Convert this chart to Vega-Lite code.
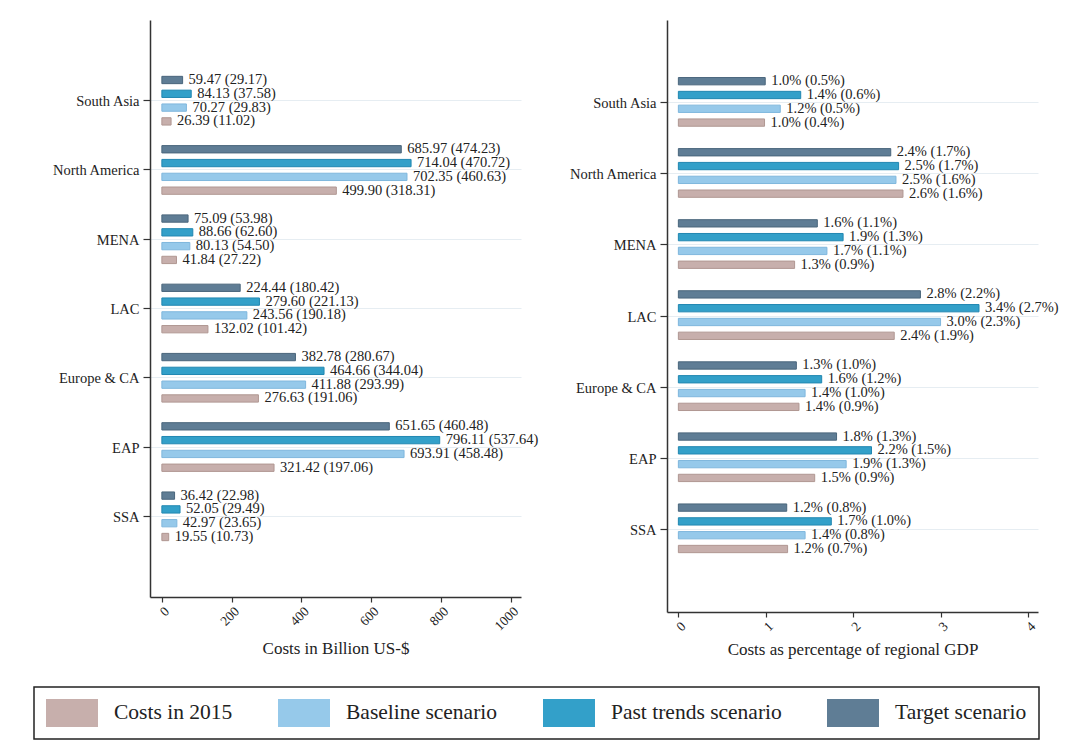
{
  "$schema": "https://vega.github.io/schema/vega-lite/v6.json",
  "padding": {"left": 33, "top": 20, "right": 5, "bottom": 5},
  "background": "white",
  "data": {"values": [
    {"region": "South Asia", "series": "Target scenario", "cost": 59.47, "clab": "59.47 (29.17)", "pct": 0.994, "plab": "1.0% (0.5%)"},
    {"region": "South Asia", "series": "Past trends scenario", "cost": 84.13, "clab": "84.13 (37.58)", "pct": 1.40, "plab": "1.4% (0.6%)"},
    {"region": "South Asia", "series": "Baseline scenario", "cost": 70.27, "clab": "70.27 (29.83)", "pct": 1.166, "plab": "1.2% (0.5%)"},
    {"region": "South Asia", "series": "Costs in 2015", "cost": 26.39, "clab": "26.39 (11.02)", "pct": 0.986, "plab": "1.0% (0.4%)"},
    {"region": "North America", "series": "Target scenario", "cost": 685.97, "clab": "685.97 (474.23)", "pct": 2.43, "plab": "2.4% (1.7%)"},
    {"region": "North America", "series": "Past trends scenario", "cost": 714.04, "clab": "714.04 (470.72)", "pct": 2.52, "plab": "2.5% (1.7%)"},
    {"region": "North America", "series": "Baseline scenario", "cost": 702.35, "clab": "702.35 (460.63)", "pct": 2.49, "plab": "2.5% (1.6%)"},
    {"region": "North America", "series": "Costs in 2015", "cost": 499.90, "clab": "499.90 (318.31)", "pct": 2.57, "plab": "2.6% (1.6%)"},
    {"region": "MENA", "series": "Target scenario", "cost": 75.09, "clab": "75.09 (53.98)", "pct": 1.59, "plab": "1.6% (1.1%)"},
    {"region": "MENA", "series": "Past trends scenario", "cost": 88.66, "clab": "88.66 (62.60)", "pct": 1.885, "plab": "1.9% (1.3%)"},
    {"region": "MENA", "series": "Baseline scenario", "cost": 80.13, "clab": "80.13 (54.50)", "pct": 1.70, "plab": "1.7% (1.1%)"},
    {"region": "MENA", "series": "Costs in 2015", "cost": 41.84, "clab": "41.84 (27.22)", "pct": 1.33, "plab": "1.3% (0.9%)"},
    {"region": "LAC", "series": "Target scenario", "cost": 224.44, "clab": "224.44 (180.42)", "pct": 2.77, "plab": "2.8% (2.2%)"},
    {"region": "LAC", "series": "Past trends scenario", "cost": 279.60, "clab": "279.60 (221.13)", "pct": 3.44, "plab": "3.4% (2.7%)"},
    {"region": "LAC", "series": "Baseline scenario", "cost": 243.56, "clab": "243.56 (190.18)", "pct": 3.00, "plab": "3.0% (2.3%)"},
    {"region": "LAC", "series": "Costs in 2015", "cost": 132.02, "clab": "132.02 (101.42)", "pct": 2.47, "plab": "2.4% (1.9%)"},
    {"region": "Europe & CA", "series": "Target scenario", "cost": 382.78, "clab": "382.78 (280.67)", "pct": 1.35, "plab": "1.3% (1.0%)"},
    {"region": "Europe & CA", "series": "Past trends scenario", "cost": 464.66, "clab": "464.66 (344.04)", "pct": 1.64, "plab": "1.6% (1.2%)"},
    {"region": "Europe & CA", "series": "Baseline scenario", "cost": 411.88, "clab": "411.88 (293.99)", "pct": 1.45, "plab": "1.4% (1.0%)"},
    {"region": "Europe & CA", "series": "Costs in 2015", "cost": 276.63, "clab": "276.63 (191.06)", "pct": 1.38, "plab": "1.4% (0.9%)"},
    {"region": "EAP", "series": "Target scenario", "cost": 651.65, "clab": "651.65 (460.48)", "pct": 1.81, "plab": "1.8% (1.3%)"},
    {"region": "EAP", "series": "Past trends scenario", "cost": 796.11, "clab": "796.11 (537.64)", "pct": 2.21, "plab": "2.2% (1.5%)"},
    {"region": "EAP", "series": "Baseline scenario", "cost": 693.91, "clab": "693.91 (458.48)", "pct": 1.92, "plab": "1.9% (1.3%)"},
    {"region": "EAP", "series": "Costs in 2015", "cost": 321.42, "clab": "321.42 (197.06)", "pct": 1.56, "plab": "1.5% (0.9%)"},
    {"region": "SSA", "series": "Target scenario", "cost": 36.42, "clab": "36.42 (22.98)", "pct": 1.24, "plab": "1.2% (0.8%)"},
    {"region": "SSA", "series": "Past trends scenario", "cost": 52.05, "clab": "52.05 (29.49)", "pct": 1.75, "plab": "1.7% (1.0%)"},
    {"region": "SSA", "series": "Baseline scenario", "cost": 42.97, "clab": "42.97 (23.65)", "pct": 1.45, "plab": "1.4% (0.8%)"},
    {"region": "SSA", "series": "Costs in 2015", "cost": 19.55, "clab": "19.55 (10.73)", "pct": 1.25, "plab": "1.2% (0.7%)"}
  ]},
  "config": {
    "font": "Liberation Serif",
    "view": {"stroke": null},
    "axis": {
      "labelFont": "Liberation Serif",
      "titleFont": "Liberation Serif",
      "labelColor": "#222222",
      "titleColor": "#222222",
      "domainColor": "#333333",
      "domainWidth": 1.5,
      "tickColor": "#333333",
      "tickWidth": 1.2,
      "titleFontWeight": "normal"
    },
    "legend": {
      "labelFont": "Liberation Serif",
      "labelFontSize": 21.5,
      "labelLimit": 400,
      "labelColor": "#222222",
      "strokeColor": "#222222",
      "strokeWidth": 1.5,
      "padding": 12,
      "fillColor": "white"
    }
  },
  "spacing": 28,
  "hconcat": [
    {
      "width": 371,
      "height": 577,
      "encoding": {
        "y": {"field": "region", "type": "nominal",
          "sort": ["South Asia", "North America", "MENA", "LAC", "Europe & CA", "EAP", "SSA"],
          "scale": {"paddingInner": 0, "paddingOuter": 0.665},
          "axis": {"title": null, "labelFontSize": 14.5, "tickSize": 7, "labelPadding": 4, "labelBaseline": "middle", "labelOffset": 1.5, "grid": true, "gridColor": "#e6edf2", "gridWidth": 1, "bandPosition": 0.5, "minExtent": 116}},
        "yOffset": {"field": "series", "type": "nominal",
          "sort": ["Target scenario", "Past trends scenario", "Baseline scenario", "Costs in 2015"],
          "scale": {"paddingInner": 0.47, "paddingOuter": 0.745}}
      },
      "layer": [
        {
          "mark": {"type": "bar", "strokeWidth": 1},
          "encoding": {
            "x": {"field": "cost", "type": "quantitative",
              "scale": {"domain": [-34, 1029], "nice": false, "zero": false},
              "axis": {"values": [0, 200, 400, 600, 800, 1000], "format": "d", "labelAngle": -45, "labelFontSize": 13.5, "tickSize": 5, "grid": false, "title": "Costs in Billion US-$", "titleFontSize": 17, "titlePadding": 8}},
            "color": {"field": "series", "type": "nominal",
              "scale": {"domain": ["Costs in 2015", "Baseline scenario", "Past trends scenario", "Target scenario"], "range": ["#c7afac", "#96c9ea", "#33a0c9", "#5f7d95"]},
              "legend": {"title": null, "orient": "none", "legendX": -116, "legendY": 667, "direction": "horizontal", "columns": 4, "columnPadding": 45, "labelOffset": 40, "symbolType": "M-1,-1H2.714V1H-1Z", "symbolSize": 784, "symbolStrokeWidth": 0}},
            "stroke": {"field": "series", "type": "nominal",
              "scale": {"domain": ["Costs in 2015", "Baseline scenario", "Past trends scenario", "Target scenario"], "range": ["#b09792", "#7fb7dd", "#2187b1", "#4a667c"]},
              "legend": null}
          }
        },
        {
          "mark": {"type": "text", "align": "left", "baseline": "middle", "dx": 6, "fontSize": 14.5, "color": "#222222", "font": "Liberation Serif"},
          "encoding": {
            "x": {"field": "cost", "type": "quantitative"},
            "text": {"field": "clab"}
          }
        }
      ]
    },
    {
      "width": 371,
      "height": 592,
      "encoding": {
        "y": {"field": "region", "type": "nominal",
          "sort": ["South Asia", "North America", "MENA", "LAC", "Europe & CA", "EAP", "SSA"],
          "scale": {"paddingInner": 0, "paddingOuter": 0.665},
          "axis": {"title": null, "labelFontSize": 14.5, "tickSize": 7, "labelPadding": 4, "labelBaseline": "middle", "labelOffset": 1.5, "grid": true, "gridColor": "#e6edf2", "gridWidth": 1, "bandPosition": 0.5, "minExtent": 100}},
        "yOffset": {"field": "series", "type": "nominal",
          "sort": ["Target scenario", "Past trends scenario", "Baseline scenario", "Costs in 2015"],
          "scale": {"paddingInner": 0.47, "paddingOuter": 0.745}}
      },
      "layer": [
        {
          "mark": {"type": "bar", "strokeWidth": 1},
          "encoding": {
            "x": {"field": "pct", "type": "quantitative",
              "scale": {"domain": [-0.13, 4.115], "nice": false, "zero": false},
              "axis": {"values": [0, 1, 2, 3, 4], "format": "d", "labelAngle": -45, "labelFontSize": 13.5, "tickSize": 5, "grid": false, "title": "Costs as percentage of regional GDP", "titleFontSize": 17, "titlePadding": 8}},
            "color": {"field": "series", "type": "nominal",
              "scale": {"domain": ["Costs in 2015", "Baseline scenario", "Past trends scenario", "Target scenario"], "range": ["#c7afac", "#96c9ea", "#33a0c9", "#5f7d95"]}},
            "stroke": {"field": "series", "type": "nominal",
              "scale": {"domain": ["Costs in 2015", "Baseline scenario", "Past trends scenario", "Target scenario"], "range": ["#b09792", "#7fb7dd", "#2187b1", "#4a667c"]},
              "legend": null}
          }
        },
        {
          "mark": {"type": "text", "align": "left", "baseline": "middle", "dx": 6, "fontSize": 14.5, "color": "#222222", "font": "Liberation Serif"},
          "encoding": {
            "x": {"field": "pct", "type": "quantitative"},
            "text": {"field": "plab"}
          }
        }
      ]
    }
  ],
  "resolve": {"scale": {"x": "independent", "y": "independent"}}
}
